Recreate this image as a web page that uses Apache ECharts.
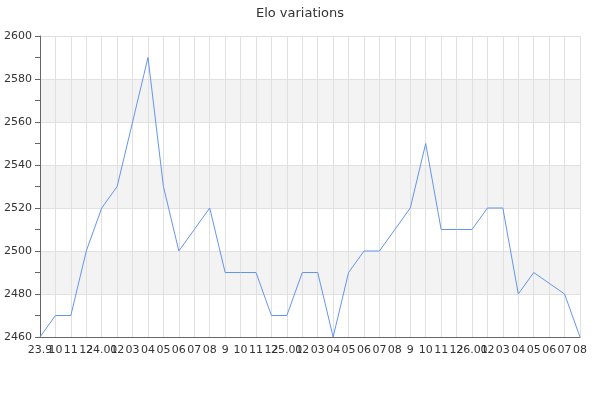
<!DOCTYPE html>
<html><head><meta charset="utf-8">
<script src="https://cdn.jsdelivr.net/npm/echarts@6/dist/echarts.min.js"></script>
<style>html,body{margin:0;padding:0;background:#fff}#c{width:600px;height:400px}</style>
</head><body><div id="c"></div>
<script>
const categories = ['23.9','10','11','12','24.01','02','03','04','05','06','07','08','9','10','11','12','25.01','02','03','04','05','06','07','08','9','10','11','12','26.01','02','03','04','05','06','07','08'];
const elo = [2460,2470,2470,2500,2520,2530,2560,2590,2530,2500,2510,2520,2490,2490,2490,2470,2470,2490,2490,2460,2490,2500,2500,2510,2520,2550,2510,2510,2510,2520,2520,2480,2490,2485,2480,2460];
const yMin = 2460, yMax = 2600, yStep = 20;
const chart = echarts.init(document.getElementById('c'));
chart.setOption({
  animation: false,
  textStyle: {fontFamily: 'DejaVu Sans'},
  title: {text: 'Elo variations', left: 'center', top: 2, textStyle: {fontSize: 13, fontWeight: 'normal', color: '#333', fontFamily: 'DejaVu Sans'}},
  grid: {left: 40, right: 20, top: 36, bottom: 63, containLabel: false},
  xAxis: {
    type: 'category', data: categories, boundaryGap: false,
    axisLine: {lineStyle: {color: '#666'}},
    axisTick: {show: false},
    axisLabel: {interval: 0, color: '#333', fontSize: 11, margin: 8, fontFamily: 'DejaVu Sans'},
    splitLine: {show: true, lineStyle: {color: '#e0e0e0'}}
  },
  yAxis: {
    type: 'value', min: yMin, max: yMax, interval: yStep,
    axisLine: {show: true, lineStyle: {color: '#666'}},
    axisTick: {show: true, length: 5, lineStyle: {color: '#666'}},
    minorTick: {show: true, splitNumber: 2, length: 5, lineStyle: {color: '#666'}},
    axisLabel: {color: '#333', fontSize: 11, margin: 8, fontFamily: 'DejaVu Sans', formatter: v => String(v)},
    splitLine: {show: true, lineStyle: {color: '#e0e0e0'}},
    splitArea: {show: true, areaStyle: {color: ['rgba(255,255,255,0)', '#f3f3f3']}}
  },
  series: [{
    type: 'line', data: elo, showSymbol: false, symbol: 'none',
    lineStyle: {color: '#6495ED', width: 1}
  }]
});
</script></body></html>
